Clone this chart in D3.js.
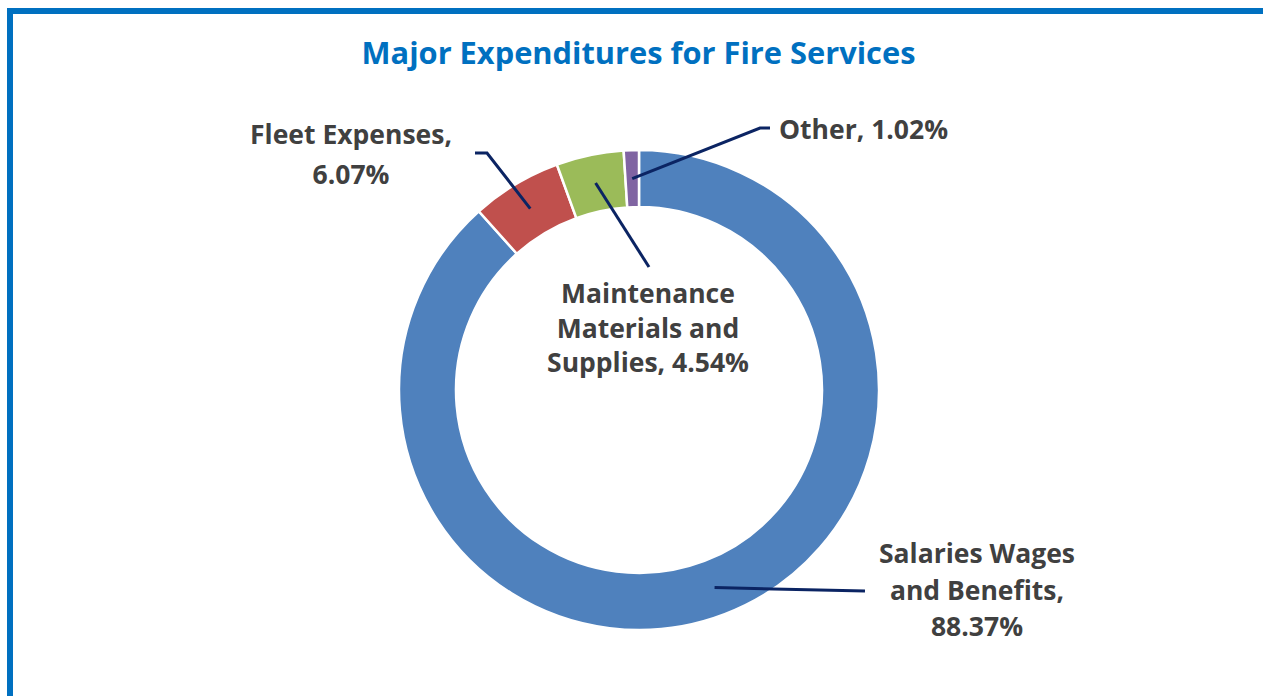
<!DOCTYPE html>
<html>
<head>
<meta charset="utf-8">
<script src="https://cdn.jsdelivr.net/npm/d3@7"></script>
<style>
  html, body { margin: 0; padding: 0; background: #ffffff; }
  svg { display: block; }
  text { font-family: "Open Sans", Lato, sans-serif; font-weight: 700; }
</style>
</head>
<body>
<svg id="chart" width="1263" height="696"></svg>
<script>
// Expenditure shares (percent), in drawing order clockwise from 12 o'clock
const categories = ["Salaries Wages and Benefits", "Fleet Expenses", "Maintenance Materials and Supplies", "Other"];
const shares = [88.37, 6.07, 4.54, 1.02];
const colors = ["#4F81BD", "#C0504D", "#9BBB59", "#8064A2"];
// Label text, split into lines as displayed
const labelLines = [
  ["Salaries Wages", "and Benefits,", "88.37%"],
  ["Fleet Expenses,", "6.07%"],
  ["Maintenance", "Materials and", "Supplies, 4.54%"],
  ["Other, 1.02%"]
];
const chartTitle = "Major Expenditures for Fire Services";

const svg = d3.select("#chart");
const W = 1263, H = 696;

// Frame: blue border on top and left, running off the right and bottom edges
svg.append("rect")
  .attr("x", 10).attr("y", 11)
  .attr("width", W + 20).attr("height", H + 20)
  .attr("fill", "none")
  .attr("stroke", "#0070C0")
  .attr("stroke-width", 6);

svg.append("text")
  .attr("x", 638.5).attr("y", 64)
  .attr("text-anchor", "middle")
  .attr("fill", "#0070C0")
  .attr("font-size", 30.8)
  .text(chartTitle);

const cx = 639, cy = 390;
const outerR = 240, innerR = 183;

const pie = d3.pie().sort(null).value(d => d)
  .startAngle(0).endAngle(2 * Math.PI);
const arcs = pie(shares);
const arc = d3.arc().innerRadius(innerR).outerRadius(outerR);

const g = svg.append("g").attr("transform", `translate(${cx},${cy})`);

g.selectAll("path.slice")
  .data(arcs)
  .enter().append("path")
  .attr("class", "slice")
  .attr("d", arc)
  .attr("fill", (d, i) => colors[i])
  .attr("stroke", "#ffffff")
  .attr("stroke-width", 2.5)
  .attr("stroke-linejoin", "miter");

// Label placement (absolute page coords): text anchor point, line spacing and leader elbow
const labelLayout = [
  { x: 977, y: 563, gap: 36.5, anchor: "middle", leader: [[865, 591]] },
  { x: 351, y: 144, gap: 39.5, anchor: "middle", leader: [[487, 153], [475, 153]] },
  { x: 648, y: 303, gap: 34.5, anchor: "middle", leader: [[649, 267]] },
  { x: 779, y: 139, gap: 0, anchor: "start", leader: [[760, 128], [770, 128]] }
];

// Leader lines start at the middle of each slice's ring
const line = d3.line();
arcs.forEach((d, i) => {
  const c = arc.centroid(d);
  const start = [cx + c[0], cy + c[1]];
  const pts = [start].concat(labelLayout[i].leader);
  svg.append("path")
    .attr("d", line(pts))
    .attr("fill", "none")
    .attr("stroke", "#0B2463")
    .attr("stroke-width", 3);
});

labelLayout.forEach((L, i) => {
  const t = svg.append("text")
    .attr("x", L.x).attr("y", L.y)
    .attr("text-anchor", L.anchor)
    .attr("fill", "#404040")
    .attr("font-size", 26.5);
  labelLines[i].forEach((s, k) => {
    t.append("tspan")
      .attr("x", L.x)
      .attr("y", L.y + k * L.gap)
      .text(s);
  });
});
</script>
</body>
</html>
